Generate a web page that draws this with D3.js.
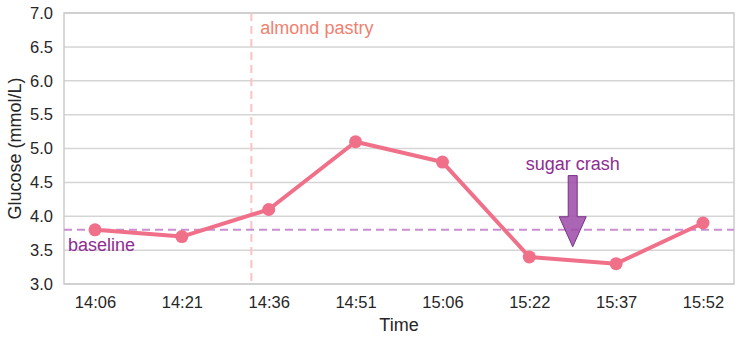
<!DOCTYPE html>
<html><head><meta charset="utf-8">
<script src="https://cdn.jsdelivr.net/npm/d3@7"></script>
<style>body{margin:0;background:#fff}svg{display:block}text{font-family:"Liberation Sans",Arial,sans-serif}</style>
</head><body><svg id="c" width="741" height="341"></svg>
<script>
const times = ["14:06","14:21","14:36","14:51","15:06","15:22","15:37","15:52"];
const glucose = [3.8,3.7,4.1,5.1,4.8,3.4,3.3,3.9];
const yTicks = [3.0,3.5,4.0,4.5,5.0,5.5,6.0,6.5,7.0];
const baselineValue = 3.8;
const pastryIndex = 1.8;
const crashIndex = 5.5;
const crashFrom = 4.6, crashTo = 3.55;

const svg = d3.select("#c");
const m = {l:64, t:13, r:734, b:284};
const x = d3.scaleLinear().domain([-0.357, 7.357]).range([m.l, m.r]);
const y = d3.scaleLinear().domain([3,7]).range([m.b, m.t]);

// grid
svg.append("g").selectAll("line").data(yTicks).join("line")
  .attr("x1",m.l).attr("x2",m.r).attr("y1",d=>y(d)).attr("y2",d=>y(d))
  .attr("stroke","#d5d5d5").attr("stroke-width",1.5);
// frame
svg.append("rect").attr("x",m.l).attr("y",m.t).attr("width",m.r-m.l).attr("height",m.b-m.t)
  .attr("fill","none").attr("stroke","#cccccc").attr("stroke-width",1.5);

// y axis
const ya = svg.append("g").attr("transform",`translate(${m.l},0)`)
  .call(d3.axisLeft(y).tickValues(yTicks).tickFormat(d3.format(".1f")).tickSize(0).tickPadding(11));
ya.select(".domain").remove();
ya.selectAll("text").attr("font-size",16.5).attr("fill","#262626").attr("font-family","Liberation Sans, Arial, sans-serif");

// x axis
const xa = svg.append("g").attr("transform",`translate(0,${m.b})`)
  .call(d3.axisBottom(x).tickValues(d3.range(times.length)).tickFormat(i=>times[i]).tickSize(0).tickPadding(12));
xa.select(".domain").remove();
xa.selectAll("text").attr("font-size",16.5).attr("fill","#262626").attr("font-family","Liberation Sans, Arial, sans-serif");

// labels
svg.append("text").attr("x",(m.l+m.r)/2).attr("y",331).attr("text-anchor","middle")
  .attr("font-size",18).attr("fill","#262626").text("Time");
svg.append("text").attr("transform",`translate(21,${(m.t+m.b)/2}) rotate(-90)`).attr("text-anchor","middle")
  .attr("font-size",18).attr("fill","#262626").text("Glucose (mmol/L)");

// pastry line
svg.append("line").attr("x1",x(pastryIndex)).attr("x2",x(pastryIndex)).attr("y1",m.t).attr("y2",m.b)
  .attr("stroke","#f8c4c4").attr("stroke-width",2).attr("stroke-dasharray","8,5");
svg.append("text").attr("x",x(pastryIndex)+9).attr("y",34).attr("font-size",18)
  .attr("fill","#f08070").text("almond pastry");

// baseline
svg.append("line").attr("x1",m.l).attr("x2",m.r).attr("y1",y(baselineValue)).attr("y2",y(baselineValue))
  .attr("stroke","#c98fd0").attr("stroke-width",2).attr("stroke-dasharray","8,5");
svg.append("text").attr("x",68).attr("y",251).attr("font-size",18)
  .attr("fill","#8e2c93").text("baseline");

// series
svg.append("path").datum(glucose)
  .attr("d", d3.line().x((d,i)=>x(i)).y(d=>y(d)))
  .attr("fill","none").attr("stroke","#f07089").attr("stroke-width",4).attr("stroke-linejoin","round");
svg.append("g").selectAll("circle").data(glucose).join("circle")
  .attr("cx",(d,i)=>x(i)).attr("cy",d=>y(d)).attr("r",6.5).attr("fill","#f07089");

// arrow
const ax = x(crashIndex), y0 = y(crashFrom), y1 = y(crashTo), headH = 30, sw = 4.5, hw = 13.5;
svg.append("path")
  .attr("d",`M${ax-sw},${y0} L${ax+sw},${y0} L${ax+sw},${y1-headH} L${ax+hw},${y1-headH} L${ax},${y1} L${ax-hw},${y1-headH} L${ax-sw},${y1-headH} Z`)
  .attr("fill","#9c4aa8").attr("fill-opacity",0.85).attr("stroke","#7a2f88").attr("stroke-width",1);
svg.append("text").attr("x",ax).attr("y",170).attr("text-anchor","middle").attr("font-size",18)
  .attr("fill","#8e2c93").text("sugar crash");
</script></body></html>
